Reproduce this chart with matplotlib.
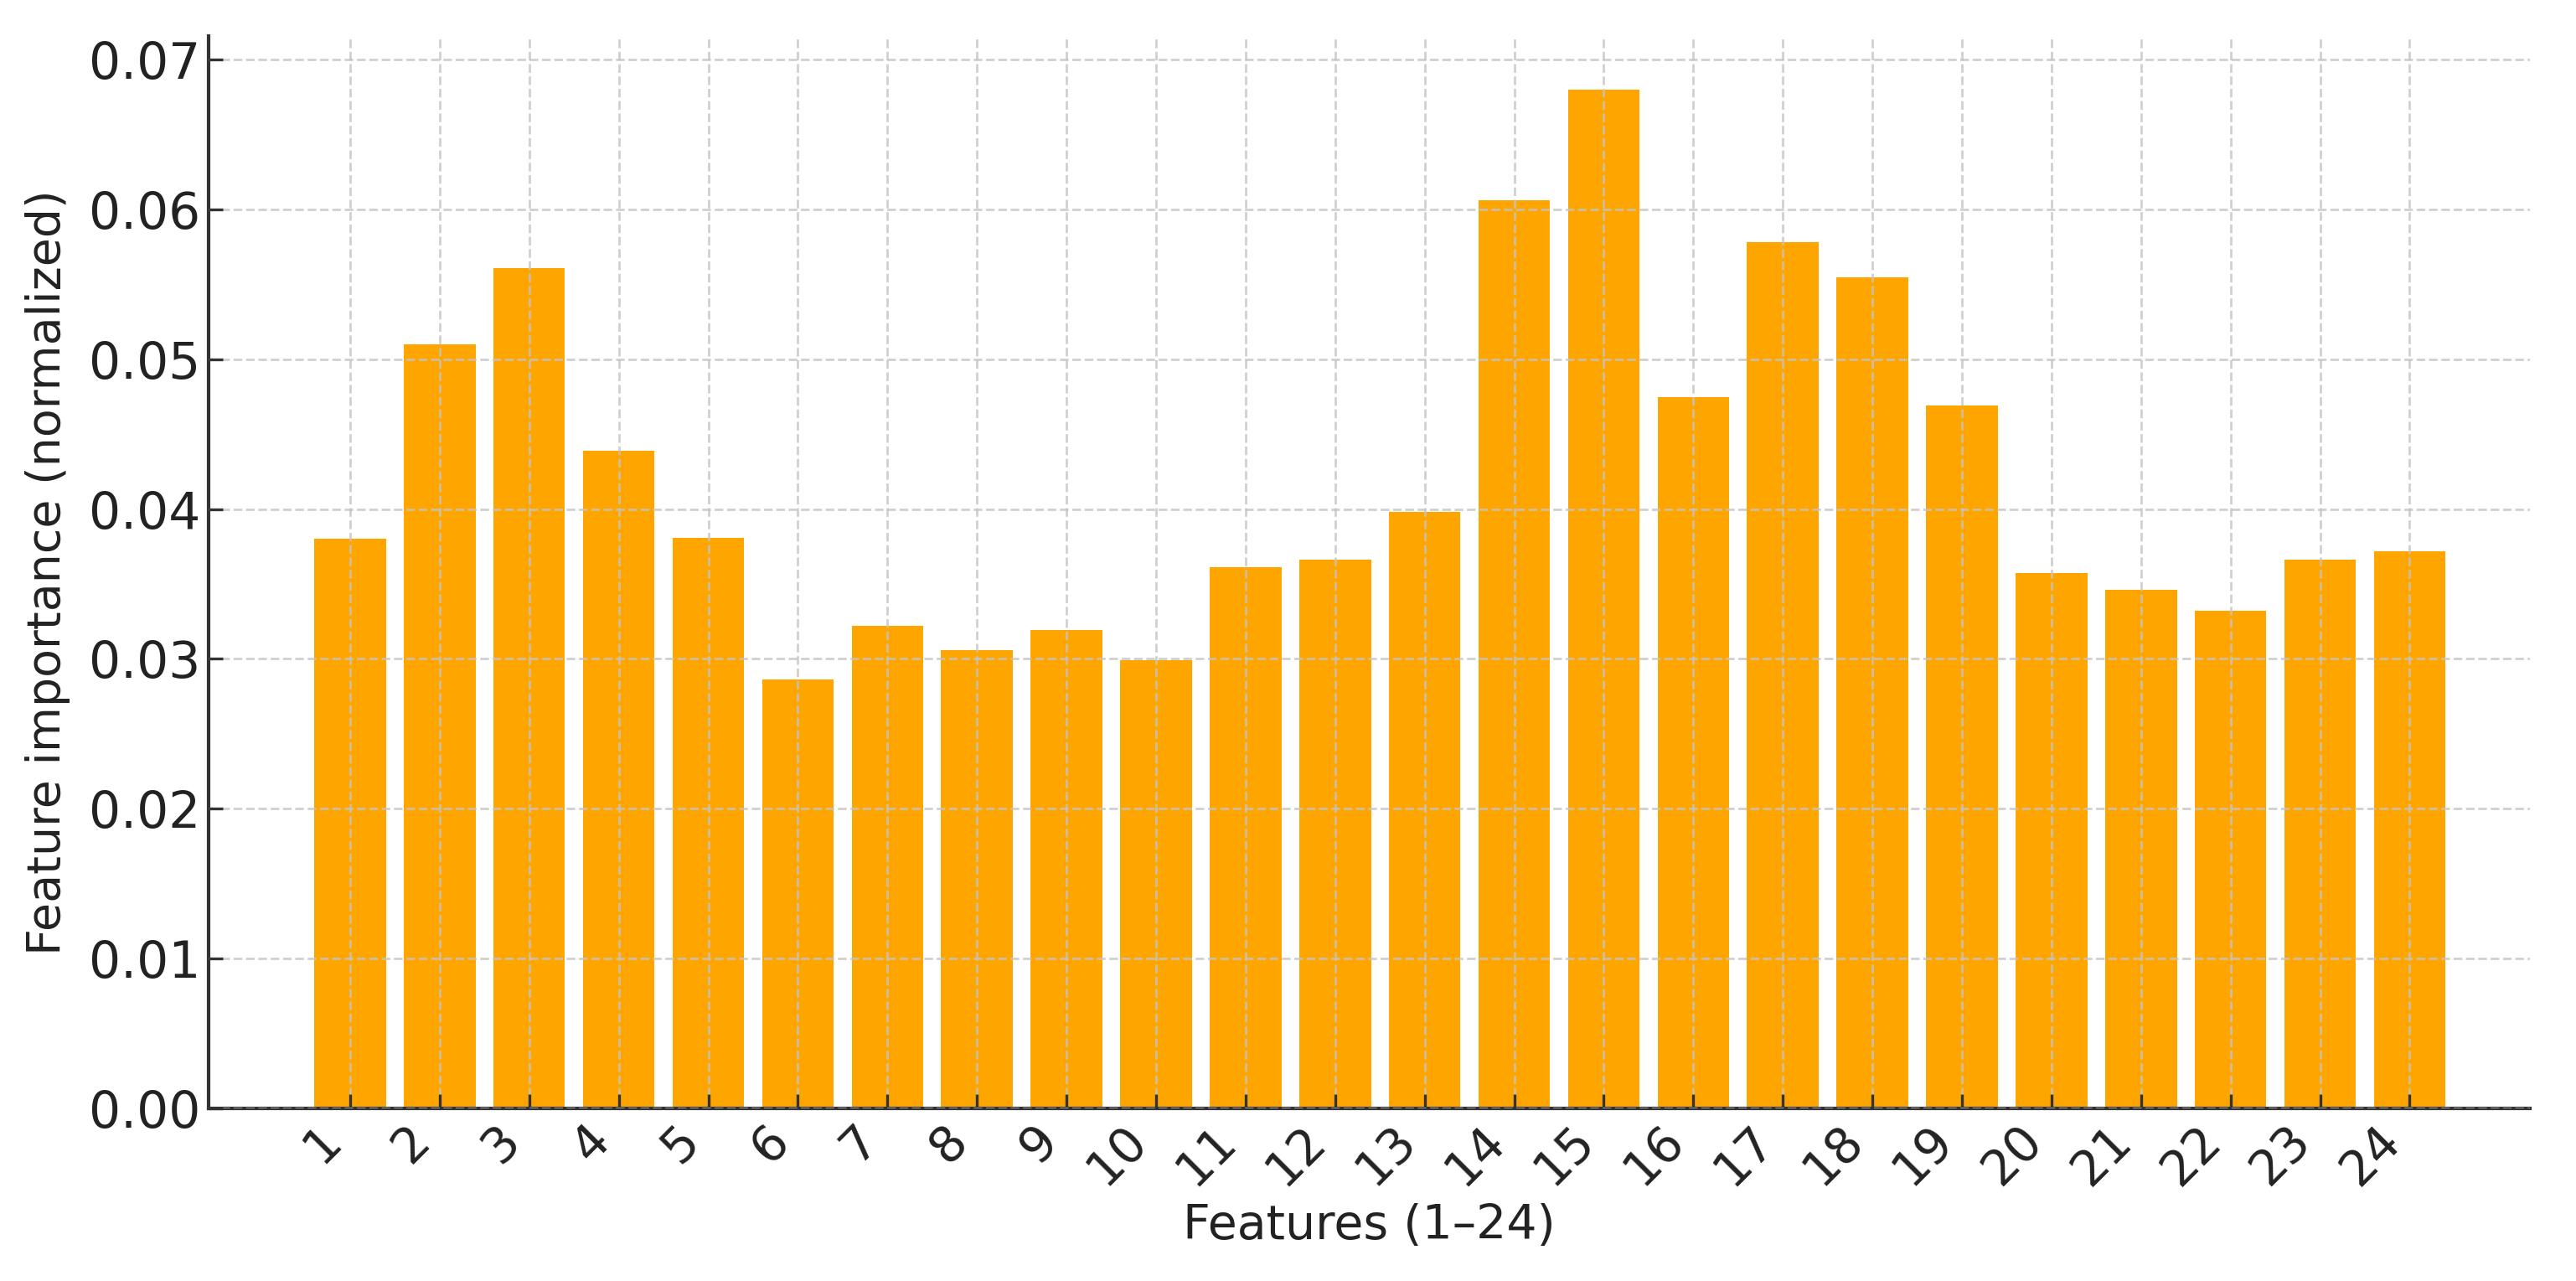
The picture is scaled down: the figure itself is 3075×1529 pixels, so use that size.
import matplotlib
matplotlib.use("Agg")
import matplotlib.pyplot as plt

features = [str(i) for i in range(1, 25)]
importance = [0.0380, 0.0510, 0.0561, 0.0439, 0.0381, 0.0286, 0.0322, 0.0306,
              0.0319, 0.0299, 0.0361, 0.0366, 0.0398, 0.0606, 0.0680, 0.0475,
              0.0578, 0.0555, 0.0469, 0.0357, 0.0346, 0.0332, 0.0366, 0.0372]
yticks = [0.00, 0.01, 0.02, 0.03, 0.04, 0.05, 0.06, 0.07]

plt.rcParams['font.family'] = ['DejaVu Sans']
fig = plt.figure(figsize=(15.375, 7.645), dpi=200)
ax = fig.add_axes([0.081, 0.135, 0.901, 0.837])

x = list(range(1, len(features) + 1))
ax.bar(x, importance, width=0.8, color='orange', zorder=1)
ax.set_xticks(x)
ax.set_xticklabels(features, rotation=45, ha='right', fontsize=21, color='#222222')
ax.set_yticks(yticks)
ax.set_yticklabels([f"{v:.2f}" for v in yticks], fontsize=21.5, color='#222222')
ax.set_xlim(1 - 1.58, 24 + 1.34)
ax.set_ylim(0, 0.0716)

ax.set_xlabel("Features (1–24)", fontsize=20.5, color='#222222', labelpad=4)
ax.set_ylabel("Feature importance (normalized)", fontsize=20, color='#222222', labelpad=8)

ax.grid(True, linestyle='--', color='#c4c4c4', linewidth=1.0, alpha=0.8, zorder=2)
ax.set_axisbelow(False)
for s in ['top', 'right']:
    ax.spines[s].set_visible(False)
for s in ['left', 'bottom']:
    ax.spines[s].set_color('#333333')
    ax.spines[s].set_linewidth(1.5)
ax.tick_params(direction='in', length=6, width=1.2, color='#333333')

fig.savefig("out.png", dpi=200, facecolor='white')
